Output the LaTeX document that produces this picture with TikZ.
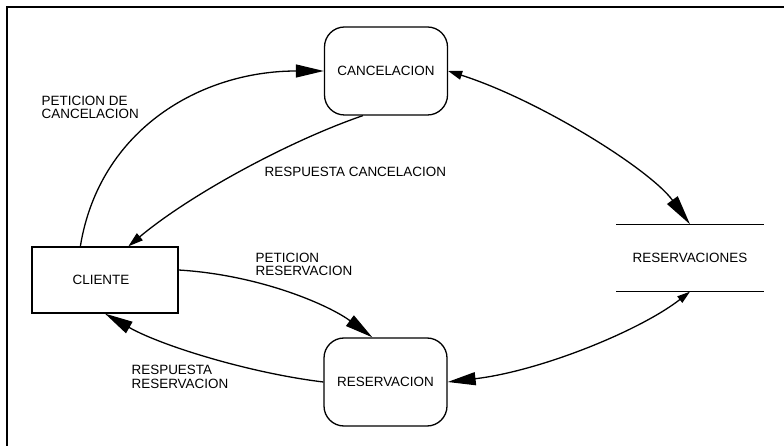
\documentclass[tikz,border=0pt]{standalone}
\usepackage{fontspec}
\setmainfont{Liberation Sans}
\usetikzlibrary{arrows.meta}
\begin{document}
\begin{tikzpicture}[x=1bp,y=-1bp,
  line width=1.3bp,
  lbl/.style={font=\fontsize{13.5}{13.5}\selectfont, align=left, inner sep=0pt},
  process/.style={draw, rounded corners=20bp, minimum width=123bp, minimum height=88bp,
    font=\fontsize{13.5}{14}\selectfont, inner sep=0pt},
  entity/.style={draw, minimum width=146bp, minimum height=66bp,
    font=\fontsize{13.5}{14}\selectfont, inner sep=0pt},
  datastore/.style={minimum width=146bp, minimum height=66bp,
    font=\fontsize{13.5}{14}\selectfont, inner sep=0pt},
  flow/.style={line width=1.3bp}]
\useasboundingbox (0,0) rectangle (784,446);
% frame
\draw[line width=1.5bp] (7,446) -- (7,7) -- (784,7);

% nodes
\node[process] (cancel) at (386,71) {CANCELACION};
\node[process] (reserv) at (385.5,382) {RESERVACION};
\node[entity] (cliente) at (105,280) {\hspace*{-8bp}CLIENTE};
\node[datastore] (store) at (690,258) {RESERVACIONES};
\draw (store.north west) -- (store.north east);
\draw (store.south west) -- (store.south east);

% flows
\draw[flow, -{Triangle[length=28bp,width=13bp]}]
  ([xshift=49bp]cliente.north west) .. controls +(19,-117) and +(-123,0) .. (cancel.west);
\draw[flow, -{Triangle[length=15bp,width=9bp]}]
  ([xshift=39bp]cancel.south west) .. controls +(-73,25) and +(62,-52) .. ([xshift=97bp]cliente.north west);
\draw[flow, {Triangle[length=14bp,width=9bp]}-{Triangle[length=30bp,width=13bp]}]
  (cancel.east) .. controls +(91,29) and +(-40,-55) .. (store.north);
\draw[flow, -{Triangle[length=28bp,width=13bp]}]
  ([yshift=10bp]cliente.east) .. controls +(82,5) and +(-43,-32) .. ([xshift=49bp]reserv.north west);
\draw[flow, -{Triangle[length=28bp,width=13bp]}]
  (reserv.west) .. controls +(-74,-9) and +(56,32) .. (cliente.south);
\draw[flow, {Triangle[length=13bp,width=8bp]}-{Triangle[length=28bp,width=13bp]}]
  (store.south) .. controls +(-50,39) and +(93,-11) .. (reserv.east);

% flow labels
\node[lbl, anchor=west] (l1) at (41,107.5) {PETICION DE\\CANCELACION};
\node[lbl, anchor=west] (l2) at (264,172) {RESPUESTA CANCELACION};
\node[lbl, anchor=west] (l3) at (255,264.5) {PETICION\\RESERVACION};
\node[lbl, anchor=west] (l4) at (131,377) {RESPUESTA\\RESERVACION};
\end{tikzpicture}
\end{document}
